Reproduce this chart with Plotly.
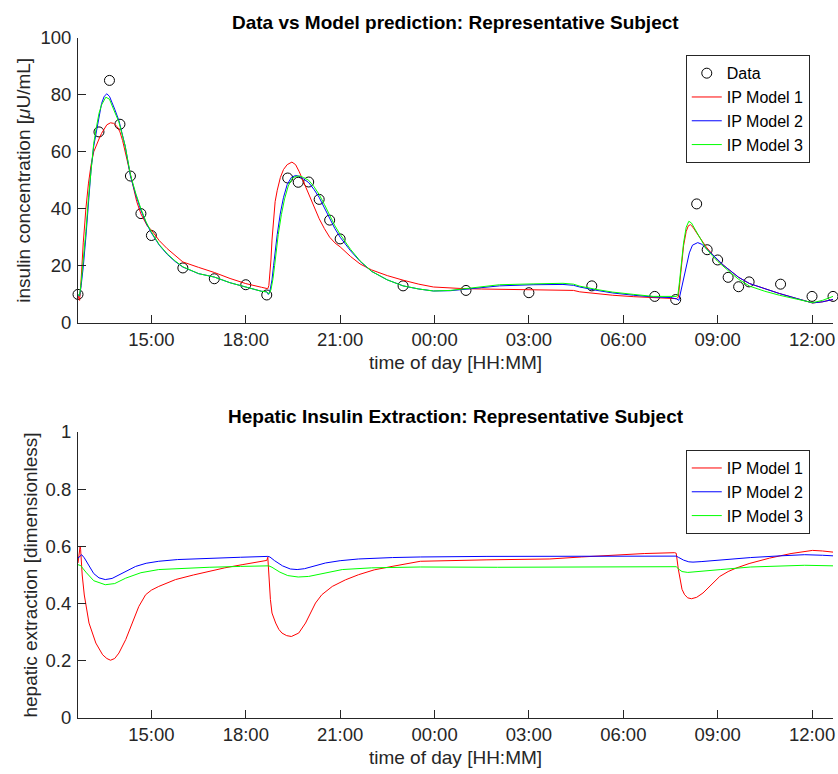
import pandas as pd
import plotly.graph_objects as go

# ---------------- data (time in minutes after 12:40 on day 1) ----------------
data_t = [0, 40, 60, 80, 100, 120, 140, 200, 260, 320, 360, 400, 420, 440, 460, 480, 500,
          620, 740, 860, 980, 1100, 1140, 1180, 1200, 1220, 1240, 1260, 1280, 1340, 1400, 1440]
data_ins = [9.9, 67.0, 85.1, 69.7, 51.5, 38.3, 30.6, 19.2, 15.4, 13.3, 9.7, 50.8, 49.3, 49.4,
            43.3, 36.0, 29.4, 12.9, 11.3, 10.5, 12.9, 9.2, 8.1, 41.7, 25.6, 22.0, 15.9, 12.6,
            14.3, 13.5, 9.2, 9.2]

# IP Model 1 insulin
m1_t = [0, 3, 5, 7, 10, 13, 15, 20, 25, 30, 35, 40, 45, 50, 55, 62, 68, 75, 80, 85, 90, 97,
        105, 112, 120, 132, 140, 155, 170, 185, 200, 230, 260, 290, 320, 350, 362,
        364, 366, 368, 370, 373, 376, 380, 386, 392, 399, 408, 415, 422, 430, 440, 450, 460,
        470, 480, 490, 500, 520, 538, 560, 590, 620, 650, 678, 710, 738, 770, 804, 868, 925,
        945, 957, 990, 1020, 1060, 1097, 1130, 1142, 1145, 1148, 1151, 1155, 1160, 1164, 1168,
        1173, 1180, 1190, 1198, 1210, 1220, 1232, 1243, 1260, 1281, 1310, 1338, 1370, 1401,
        1420, 1440]
m1_ins = [9.5, 7.8, 12, 20, 28, 35, 40, 49, 55.5, 60, 62.5, 64.5, 66.5, 68.2, 69.5, 70.2, 70,
          68.8, 67, 64, 60, 53.5, 47, 42.5, 38.2, 34, 32.5, 28.8, 26, 23.5, 21.3, 19.4, 17.6,
          15.5, 13.7, 12.4, 11.9,
          13, 17, 22, 29, 37, 42.5, 46.5, 51, 53.8, 55.5, 56.4, 55.5, 53, 49.5, 45, 40.5, 36.5,
          33, 30, 28, 26.6, 23.2, 20.6, 18.5, 16.5, 14.9, 13.5, 12.5, 12.1, 11.9, 11.8, 11.7,
          11.6, 11.6, 11.3, 10.8, 10.1, 9.6, 9.1, 8.7, 8.5, 8.4, 9, 14, 20, 27, 32, 34, 34.4,
          33.5, 31.5, 28.5, 26.6, 24, 21.9, 20, 18.4, 15.9, 13.7, 11.8, 10.2, 8.5, 6.9, 7.3, 8.1]

# IP Model 2 insulin
m2_t = [0, 3, 6, 10, 15, 20, 25, 30, 35, 40, 45, 50, 55, 60, 65, 70, 78, 85, 90, 100, 110,
        120, 130, 140, 155, 170, 185, 200, 230, 260, 290, 320, 350, 360, 363, 366, 370, 373,
        376, 380, 386, 392, 399, 407, 415, 422, 430, 440, 450, 460, 470, 480, 490, 500, 510,
        520, 538, 560, 590, 620, 650, 678, 710, 738, 770, 804, 868, 925, 945, 957, 990, 1020,
        1060, 1097, 1130, 1142, 1146, 1150, 1155, 1160, 1166, 1172, 1182, 1190, 1198, 1210,
        1220, 1232, 1243, 1260, 1281, 1310, 1338, 1370, 1401, 1420, 1440]
m2_ins = [9.8, 9.3, 13, 19.5, 30, 42, 54, 62, 67.5, 73, 77, 79.5, 80.4, 79.5, 77.5, 75, 71,
          66, 62, 51.5, 45, 39.5, 35, 31.5, 27.2, 24, 21.5, 19.5, 17.2, 16, 14, 12.5, 11, 10.8,
          9.9, 11, 15, 20, 25.5, 31, 38.5, 44, 48.5, 51, 51.7, 51.4, 50.5, 49.2, 46.8, 44, 40.3,
          36.5, 33, 30, 27.5, 25.2, 21.5, 18, 15, 12.9, 11.8, 11.1, 11.2, 11.7, 12.4, 12.9,
          13.3, 13.4, 13.1, 12.5, 11.3, 10.4, 9.6, 9.0, 8.8, 8.3, 7.8, 11, 16, 20, 24.5, 27.2,
          28.1, 27.5, 26, 24, 21.9, 20, 18.4, 15.9, 13.7, 11.8, 10.2, 8.5, 6.9, 7.3, 8.1]

# IP Model 3 insulin
m3_t = [0, 3, 6, 10, 15, 20, 25, 30, 35, 40, 45, 53, 60, 65, 70, 78, 85, 90, 100, 110, 120,
        130, 140, 155, 170, 185, 200, 230, 260, 290, 320, 350, 360, 364, 368, 372, 375, 378,
        382, 388, 394, 401, 409, 416, 423, 430, 440, 450, 460, 470, 480, 490, 500, 510, 520,
        538, 560, 590, 620, 650, 678, 710, 738, 770, 804, 868, 925, 945, 957, 990, 1020, 1060,
        1097, 1141, 1144, 1147, 1151, 1155, 1160, 1165, 1170, 1178, 1190, 1198, 1210, 1220,
        1243, 1260, 1281, 1310, 1338, 1370, 1401, 1420, 1440]
m3_ins = [9.8, 9.5, 14, 21, 32, 44, 55, 63, 68.5, 73.5, 76.5, 79.2, 78.5, 76.5, 74, 70.5, 66,
          62, 52, 45.5, 40, 35.3, 31.8, 27.4, 24.2, 21.7, 19.6, 17.2, 16, 14, 12.5, 11, 10.8,
          10, 11.5, 15.5, 20, 25, 31, 38, 43.5, 48, 50.8, 51.4, 51.5, 51, 50, 47.8, 45, 41.5,
          37.5, 34, 31, 28.2, 25.7, 21.7, 18, 15, 12.9, 11.8, 11.1, 11.3, 11.9, 12.7, 13.3,
          13.6, 13.8, 13.5, 12.8, 11.6, 10.7, 9.9, 9.2, 9.2, 9.5, 14, 21, 28, 33.5, 35.6, 35,
          32.5, 28.5, 26, 23.5, 21.5, 17.8, 15.2, 12.8, 11.0, 9.6, 8.2, 7.0, 7.8, 9.2]

# Hepatic insulin extraction
he1_t = [0, 2, 4, 5, 8, 12, 21, 34, 47, 55, 62, 70, 78, 91, 104, 116, 129, 140, 154, 186, 220,
         250, 280, 313, 340, 360, 362, 364, 367, 370, 377, 383, 389, 398, 407, 421, 434, 453,
         465, 485, 510, 535, 565, 599, 653, 780, 900, 960, 1020, 1080, 1138, 1141, 1145, 1148,
         1152, 1157, 1163, 1170, 1180, 1192, 1210, 1224, 1240, 1255, 1280, 1319, 1360, 1401,
         1420, 1440]
he1 = [0.542, 0.58, 0.60, 0.59, 0.50, 0.43, 0.332, 0.262, 0.221, 0.208, 0.202, 0.208, 0.227,
       0.274, 0.338, 0.39, 0.431, 0.447, 0.46, 0.484, 0.50, 0.513, 0.525, 0.536, 0.545, 0.551,
       0.562, 0.50, 0.414, 0.367, 0.332, 0.31, 0.297, 0.288, 0.285, 0.297, 0.332, 0.402, 0.431,
       0.46, 0.483, 0.501, 0.518, 0.53, 0.548, 0.553, 0.556, 0.563, 0.570, 0.575, 0.578,
       0.576, 0.52, 0.484, 0.45, 0.431, 0.42, 0.417, 0.422, 0.437, 0.47, 0.495, 0.512, 0.524,
       0.54, 0.559, 0.575, 0.586, 0.584, 0.580]

he2_t = [0, 4, 7, 12, 20, 30, 40, 52, 65, 78, 91, 110, 130, 154, 190, 250, 310, 362, 366, 375,
         390, 405, 418, 432, 450, 472, 500, 535, 600, 653, 780, 900, 1020, 1141, 1145, 1155,
         1165, 1173, 1190, 1226, 1283, 1340, 1386, 1420, 1440]
he2 = [0.559, 0.568, 0.571, 0.56, 0.535, 0.505, 0.49, 0.484, 0.488, 0.50, 0.513, 0.53, 0.541,
       0.548, 0.554, 0.559, 0.562, 0.565, 0.563, 0.55, 0.532, 0.521, 0.519, 0.522, 0.532,
       0.542, 0.55, 0.556, 0.561, 0.563, 0.565, 0.565, 0.566, 0.566, 0.562, 0.552, 0.546,
       0.545, 0.547, 0.553, 0.561, 0.567, 0.571, 0.569, 0.567]

he3_t = [0, 5, 15, 30, 52, 70, 91, 120, 154, 200, 250, 310, 364, 370, 385, 400, 420, 440, 470,
         504, 560, 653, 800, 1000, 1141, 1146, 1152, 1163, 1180, 1226, 1283, 1386, 1440]
he3 = [0.536, 0.533, 0.51, 0.48, 0.466, 0.47, 0.489, 0.508, 0.519, 0.524, 0.527, 0.530,
       0.532, 0.527, 0.51, 0.498, 0.493, 0.495, 0.507, 0.519, 0.525, 0.528, 0.527, 0.528,
       0.529, 0.52, 0.512, 0.509, 0.511, 0.519, 0.528, 0.534, 0.532]

tick_labels = ["15:00", "18:00", "21:00", "00:00", "03:00", "06:00", "09:00", "12:00"]
y1_ticks = [0, 20, 40, 60, 80, 100]
y2_ticks = [0, 0.2, 0.4, 0.6, 0.8, 1]
y2_ticktext = ["0", "0.2", "0.4", "0.6", "0.8", "1"]

# ---------------- helpers ----------------
base = pd.Timestamp("2000-01-01 12:40")


def tt(mins):
    return [base + pd.Timedelta(minutes=m) for m in mins]


tickvals = []
for lab in tick_labels:
    ts = pd.Timestamp("2000-01-01 " + lab)
    if ts < base:
        ts += pd.Timedelta(days=1)
    tickvals.append(ts)

FONT = "Liberation Sans, Arial, Helvetica, sans-serif"
AX = "#262626"
RED, BLUE, GREEN = "#FF0000", "#0000FF", "#00FF00"

fig = go.Figure()

fig.add_trace(go.Scatter(x=tt(data_t), y=data_ins, mode="markers", name="Data",
                         marker=dict(symbol="circle-open", size=10, color="black",
                                     line=dict(width=1, color="black")),
                         cliponaxis=False, xaxis="x", yaxis="y", legend="legend"))
for name, t, v, c in [("IP Model 1", m1_t, m1_ins, RED), ("IP Model 2", m2_t, m2_ins, BLUE),
                      ("IP Model 3", m3_t, m3_ins, GREEN)]:
    fig.add_trace(go.Scatter(x=tt(t), y=v, mode="lines", name=name,
                             line=dict(color=c, width=1), xaxis="x", yaxis="y",
                             legend="legend"))
for name, t, v, c in [("IP Model 1", he1_t, he1, RED), ("IP Model 2", he2_t, he2, BLUE),
                      ("IP Model 3", he3_t, he3, GREEN)]:
    fig.add_trace(go.Scatter(x=tt(t), y=v, mode="lines", name=name,
                             line=dict(color=c, width=1), xaxis="x2", yaxis="y2",
                             legend="legend2"))

xr = [base, base + pd.Timedelta(days=1)]
common = dict(showline=True, linecolor=AX, linewidth=1, ticks="inside", ticklen=8,
              tickwidth=1, tickcolor=AX, showgrid=False, zeroline=False,
              tickfont=dict(family=FONT, size=18.5, color=AX))
xcommon = dict(common, type="date", range=xr, tickvals=tickvals, ticktext=tick_labels,
               title=dict(text="time of day [HH:MM]", font=dict(family=FONT, size=19, color=AX),
                          standoff=6),
               ticklabelstandoff=0)

fig.update_layout(
    width=838, height=774, template="none",
    paper_bgcolor="white", plot_bgcolor="white",
    margin=dict(l=78, r=4.5, t=38, b=56),
    xaxis=dict(xcommon, domain=[0, 1], anchor="y"),
    yaxis=dict(common, domain=[0.5815, 1], range=[0, 100], tickvals=y1_ticks, anchor="x",
               ticklabelstandoff=2,
               title=dict(text="insulin concentration [<i>μ</i>U/mL]",
                          font=dict(family=FONT, size=19, color=AX), standoff=4)),
    xaxis2=dict(xcommon, domain=[0, 1], anchor="y2"),
    yaxis2=dict(common, domain=[0, 0.4206], range=[0, 1], tickvals=y2_ticks,
                ticktext=y2_ticktext, anchor="x2", ticklabelstandoff=2,
                title=dict(text="hepatic extraction [dimensionless]",
                           font=dict(family=FONT, size=19, color=AX), standoff=2)),
    legend=dict(x=0.805, y=0.9746, xanchor="left", yanchor="top", bgcolor="white",
                bordercolor=AX, borderwidth=1, font=dict(family=FONT, size=16, color="black")),
    legend2=dict(x=0.805, y=0.394, xanchor="left", yanchor="top", bgcolor="white",
                 bordercolor=AX, borderwidth=1, font=dict(family=FONT, size=16, color="black")),
    annotations=[
        dict(text="<b>Data vs Model prediction: Representative Subject</b>", x=0.5, y=1,
             xref="paper", yref="paper", xanchor="center", yanchor="bottom", yshift=3,
             showarrow=False, font=dict(family=FONT, size=19, color="black")),
        dict(text="<b>Hepatic Insulin Extraction: Representative Subject</b>", x=0.5, y=0.4206,
             xref="paper", yref="paper", xanchor="center", yanchor="bottom", yshift=3,
             showarrow=False, font=dict(family=FONT, size=19, color="black")),
    ],
    showlegend=True,
)

fig.write_html("out.html", config={"displayModeBar": False},
               post_script="document.body.style.margin='0';"
                           "document.body.style.overflow='hidden';")
